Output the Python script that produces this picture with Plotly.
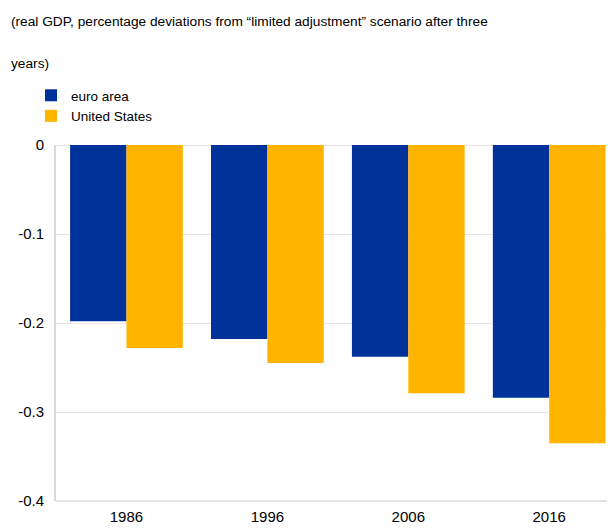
import plotly.graph_objects as go

years = ["1986", "1996", "2006", "2016"]
euro_area = [-0.198, -0.218, -0.238, -0.284]
united_states = [-0.228, -0.245, -0.279, -0.335]
y_ticks = [0, -0.1, -0.2, -0.3, -0.4]
y_tick_labels = ["0", "-0.1", "-0.2", "-0.3", "-0.4"]

FONT = "Liberation Sans, Arial, sans-serif"

fig = go.Figure()
fig.add_trace(go.Bar(x=years, y=euro_area, name="euro area",
                     marker=dict(color="#003299", line=dict(width=0))))
fig.add_trace(go.Bar(x=years, y=united_states, name="United States",
                     marker=dict(color="#FFB400", line=dict(width=0))))

L, R, T, B = 56, 1, 145, 27
W, H = 608, 528
pw = W - L - R
ph = H - T - B

def px(x):
    return (x - L) / pw

def py(y):
    return (H - B - y) / ph

fig.update_layout(
    width=W, height=H,
    margin=dict(l=L, r=R, t=T, b=B),
    barmode="group", bargap=0.2, bargroupgap=0,
    plot_bgcolor="white", paper_bgcolor="white",
    font=dict(family=FONT, size=14, color="#000000"),
    showlegend=True,
    legend=dict(x=px(31), y=py(80), xanchor="left", yanchor="top",
                font=dict(family=FONT, size=13.5, color="#000000"),
                bgcolor="rgba(0,0,0,0)", tracegroupgap=0, itemwidth=30),
    xaxis=dict(type="category", range=[-0.5, 3.41], showgrid=False,
               showline=False, ticks="", tickfont=dict(size=15),
               ticklabelstandoff=5, fixedrange=True),
    yaxis=dict(range=[-0.4, 0], tickvals=y_ticks, ticktext=y_tick_labels,
               showgrid=True, gridcolor="#e4e4e4", gridwidth=1,
               zeroline=True, zerolinecolor="#e4e4e4", zerolinewidth=1,
               showline=True, linecolor="#d9d9d9", linewidth=2,
               ticks="", tickfont=dict(size=15), ticklabelstandoff=7),
    annotations=[
        dict(text="(real GDP, percentage deviations from “limited adjustment” scenario after three",
             xref="paper", yref="paper", x=px(9), y=py(21), xanchor="left", yanchor="middle",
             showarrow=False, font=dict(family=FONT, size=13.7, color="#000000")),
        dict(text="years)",
             xref="paper", yref="paper", x=px(9), y=py(63), xanchor="left", yanchor="middle",
             showarrow=False, font=dict(family=FONT, size=13.7, color="#000000")),
    ],
)
# bottom axis line
fig.add_shape(type="line", xref="paper", yref="paper", x0=0, x1=1, y0=0, y1=0,
              line=dict(color="#d9d9d9", width=1.5))

fig.write_html("out.html")
